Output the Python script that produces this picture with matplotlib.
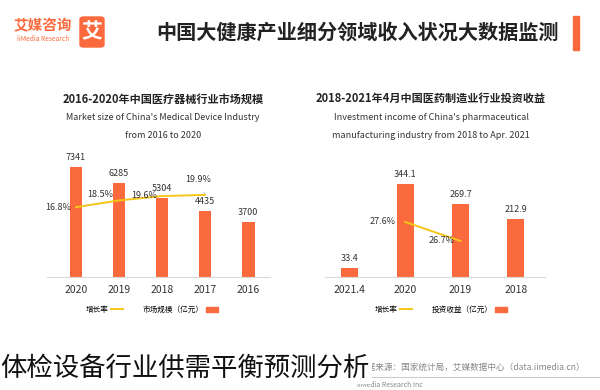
import numpy as np
import matplotlib.pyplot as plt
from matplotlib.patches import Rectangle, FancyBboxPatch, Patch
from matplotlib.lines import Line2D

plt.rcParams['font.family'] = ['Noto Sans CJK SC', 'DejaVu Sans']

# left chart: medical device market size
left_years = ['2020', '2019', '2018', '2017', '2016']
left_size = [7341, 6285, 5304, 4435, 3700]
left_growth = [16.8, 18.5, 19.6, 19.9, np.nan]

# right chart: pharma manufacturing investment income
right_years = ['2021.4', '2020', '2019', '2018']
right_income = [33.4, 344.1, 269.7, 212.9]
right_growth = [np.nan, 27.6, 26.7, np.nan]

ORANGE = '#FA6A3C'
YELLOW = '#F5C518'
DARK = '#333333'

W, H = 600, 390
fig = plt.figure(figsize=(6, 3.9), dpi=100)


def fx(x):
    return x / W


def fy(y):
    return 1 - y / H


def make_axes(x0, x1, ytop, ybase):
    return fig.add_axes([fx(x0), fy(ybase), (x1 - x0) / W, (ybase - ytop) / H])


def style(ax):
    for s in ['top', 'left', 'right']:
        ax.spines[s].set_visible(False)
    ax.spines['bottom'].set_color('#D9D9D9')
    ax.spines['bottom'].set_linewidth(0.8)
    ax.set_yticks([])
    ax.tick_params(axis='x', length=0, labelsize=7.5, colors=DARK, pad=6)


# ---- left chart
ax = make_axes(47, 270, 160, 277)
x = np.arange(len(left_years))
ax.bar(x, left_size, 0.3, color=ORANGE)
ax.set_xlim(-0.674, 4.51)
ax.set_ylim(0, 7810)
ax.set_xticks(x, left_years)
style(ax)
for i, v in enumerate(left_size):
    ax.annotate(str(v), (i, v), xytext=(0, 5), textcoords='offset pixels',
                ha='center', va='bottom', fontsize=6.5, color=DARK)
ax2 = ax.twinx()
ax2.plot(x, left_growth, color=YELLOW, lw=1.4)
ax2.set_ylim(-0.81, 28.7)
ax2.axis('off')
offs = [(-5, 0), (-6, 6), (-5, 1), (-7, 15)]
for i, g in enumerate(left_growth[:4]):
    dx, dy = offs[i]
    if i == 3:
        ax2.annotate('%.1f%%' % g, (i, g), xytext=(dx, dy), textcoords='offset pixels',
                     ha='center', va='center', fontsize=6.5, color=DARK,
                     arrowprops=dict(arrowstyle='-', color='#999999', lw=0.5,
                                     shrinkA=4, shrinkB=1))
    else:
        ax2.annotate('%.1f%%' % g, (i, g), xytext=(dx, dy), textcoords='offset pixels',
                     ha='right', va='center', fontsize=6.5, color=DARK)

ax.legend(handles=[Line2D([], [], color=YELLOW, lw=1.4), Patch(color=ORANGE)],
          labels=['增长率', '市场规模（亿元）'], loc='center',
          bbox_to_anchor=(fx(152), fy(310)), bbox_transform=fig.transFigure,
          ncol=2, frameon=False, markerfirst=False, fontsize=5.5,
          handlelength=1.6, handleheight=0.6, columnspacing=2.5, handletextpad=0.3)

# ---- right chart
bx = make_axes(325, 545, 160, 277)
x = np.arange(len(right_years))
bx.bar(x, right_income, 0.31, color=ORANGE)
bx.set_xlim(-0.45, 3.53)
bx.set_ylim(0, 433)
bx.set_xticks(x, right_years)
style(bx)
for i, v in enumerate(right_income):
    bx.annotate(str(v), (i, v), xytext=(0, 5), textcoords='offset pixels',
                ha='center', va='bottom', fontsize=6.5, color=DARK)
bx2 = bx.twinx()
bx2.plot(x, right_growth, color=YELLOW, lw=1.4)
bx2.set_ylim(24.99, 30.54)
bx2.axis('off')
for i, g in enumerate(right_growth):
    if not np.isnan(g):
        bx2.annotate('%.1f%%' % g, (i, g), xytext=(-10 if i == 1 else -6, 0),
                     textcoords='offset pixels', ha='right', va='center',
                     fontsize=6.5, color=DARK)

bx.legend(handles=[Line2D([], [], color=YELLOW, lw=1.4), Patch(color=ORANGE)],
          labels=['增长率', '投资收益（亿元）'], loc='center',
          bbox_to_anchor=(fx(441), fy(310)), bbox_transform=fig.transFigure,
          ncol=2, frameon=False, markerfirst=False, fontsize=5.5,
          handlelength=1.6, handleheight=0.6, columnspacing=2.5, handletextpad=0.3)

# ---- chart titles
fig.text(fx(163), fy(99), '2016-2020年中国医疗器械行业市场规模', ha='center', va='center',
         fontsize=8, fontweight='bold', color='#222222')
fig.text(fx(163), fy(117), "Market size of China's Medical Device Industry",
         ha='center', va='center', fontsize=6.5, color=DARK)
fig.text(fx(163), fy(135), 'from 2016 to 2020', ha='center', va='center',
         fontsize=6.5, color=DARK)

fig.text(fx(431), fy(98), '2018-2021年4月中国医药制造业行业投资收益', ha='center', va='center',
         fontsize=8, fontweight='bold', color='#222222')
fig.text(fx(431), fy(117), "Investment income of China's pharmaceutical",
         ha='center', va='center', fontsize=6.5, color=DARK)
fig.text(fx(431), fy(135), 'manufacturing industry from 2018 to Apr. 2021',
         ha='center', va='center', fontsize=6.5, color=DARK)

# ---- header
fig.text(fx(358), fy(32), '中国大健康产业细分领域收入状况大数据监测', ha='center', va='center',
         fontsize=14.5, fontweight='bold', color='#222222')
fig.patches.append(Rectangle((fx(573), fy(50)), 6 / W, 34 / H,
                             transform=fig.transFigure, color=ORANGE))
fig.patches.append(FancyBboxPatch((fx(80), fy(47)), 24 / W, 30 / H,
                                  boxstyle='round,pad=0,rounding_size=0.006',
                                  transform=fig.transFigure, color=ORANGE))
fig.text(fx(92), fy(32), '艾', ha='center', va='center', fontsize=15,
         fontweight='bold', color='white')
fig.text(fx(43), fy(25), '艾媒咨询', ha='center', va='center', fontsize=10.5,
         fontweight='bold', color=ORANGE)
fig.text(fx(43), fy(39), 'iiMedia Research', ha='center', va='center', fontsize=4.8,
         color=ORANGE)

# ---- footer
fig.add_artist(Line2D([0, 1], [fy(377), fy(377)], transform=fig.transFigure,
                      color='#CCCCCC', lw=0.8))
fig.text(fx(585), fy(367), '数据来源：国家统计局，艾媒数据中心（data.iimedia.cn）',
         ha='right', va='center', fontsize=6.2, color='#888888')
fig.text(fx(423), fy(385), 'iiMedia Research Inc',
         ha='right', va='center', fontsize=5, color='#888888')
fig.text(0, fy(368), '体检设备行业供需平衡预测分析', ha='left', va='center',
         fontsize=19, fontweight='light', color='#111111', zorder=10,
         bbox=dict(facecolor='white', edgecolor='none', pad=2))

fig.savefig('out.png', dpi=100, facecolor='white')
